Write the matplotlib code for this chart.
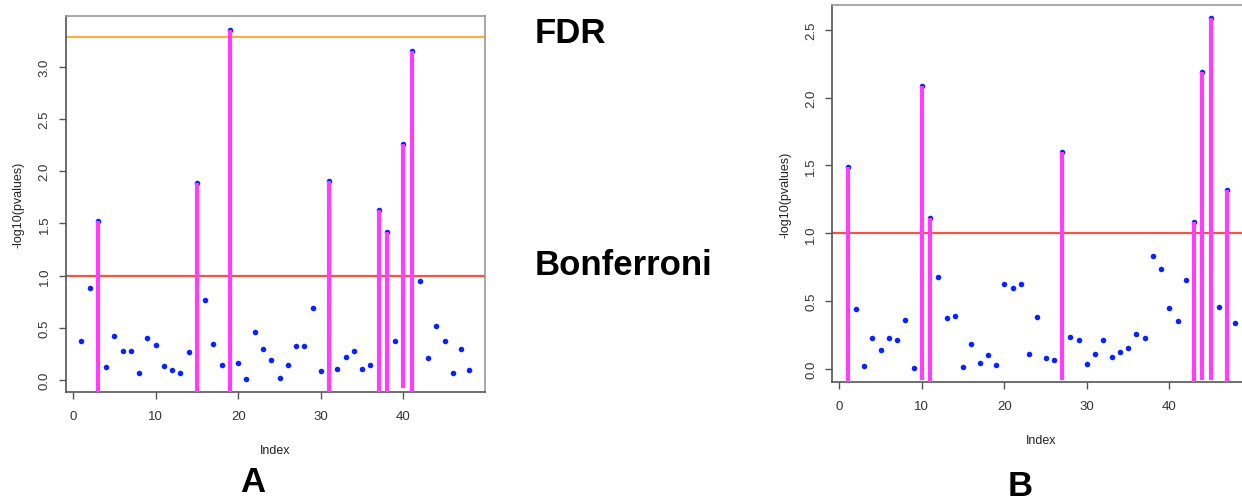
import matplotlib
matplotlib.use("Agg")
import matplotlib.pyplot as plt

plt.rcParams['font.family'] = ['Liberation Sans', 'DejaVu Sans']

# ---------------- data: panel A ----------------
a_values = [0.37, 0.88, 1.52, 0.12, 0.425, 0.275, 0.275, 0.07, 0.40, 0.335,
            0.134, 0.096, 0.064, 0.27, 1.89, 0.77, 0.345, 0.144, 3.35, 0.163,
            0.007, 0.463, 0.30, 0.19, 0.016, 0.147, 0.33, 0.33, 0.69, 0.083,
            1.91, 0.109, 0.224, 0.281, 0.109, 0.147, 1.63, 1.415, 0.377, 2.263,
            3.154, 0.946, 0.21, 0.514, 0.377, 0.07, 0.30, 0.10]
a_sig_index = [3, 15, 19, 31, 37, 38, 40, 41]
a_sig_bottom = [-0.5, -0.5, -0.5, -0.5, -0.5, -0.5, -0.08, -0.5]
a_fdr = 3.29
a_bonf = 1.0
a_yticks = [0.0, 0.5, 1.0, 1.5, 2.0, 2.5, 3.0]

# ---------------- data: panel B ----------------
b_values = [1.49, 0.442, 0.022, 0.226, 0.143, 0.226, 0.216, 0.359, 0.005, 2.088,
            1.113, 0.68, 0.378, 0.388, 0.017, 0.182, 0.042, 0.106, 0.029, 0.627,
            0.60, 0.627, 0.11, 0.386, 0.079, 0.066, 1.60, 0.233, 0.216, 0.034,
            0.108, 0.211, 0.091, 0.123, 0.152, 0.258, 0.231, 0.835, 0.737, 0.452,
            0.351, 0.656, 1.085, 2.186, 2.587, 0.457, 1.317, 0.342]
b_sig_index = [1, 10, 11, 27, 43, 44, 45, 47]
b_sig_bottom = [-0.5, -0.08, -0.5, -0.08, -0.5, -0.08, -0.08, -0.5]
b_bonf = 1.0
b_yticks = [0.0, 0.5, 1.0, 1.5, 2.0, 2.5]

xticks = [0, 10, 20, 30, 40]

MAGENTA = '#FF3CFF'
BLUE = '#0A22FF'
RED = '#F25540'
ORANGE = '#F9B040'

fig = plt.figure(figsize=(12.42, 5.02), dpi=100)

def style_axes(ax, yticks, ylim):
    ax.set_xlim(-0.85, 49.88)
    ax.set_ylim(*ylim)
    ax.set_xticks(xticks)
    ax.set_xticklabels([str(t) for t in xticks])
    ax.set_yticks(yticks)
    ax.set_yticklabels(['%.1f' % t for t in yticks], rotation=90, va='center')
    for s in ['left', 'bottom']:
        ax.spines[s].set_color('#555555')
        ax.spines[s].set_linewidth(1.2)
    for s in ['top', 'right']:
        ax.spines[s].set_color('#9a9a9a')
        ax.spines[s].set_linewidth(1.2)
    ax.tick_params(axis='both', direction='out', length=5, width=1.0,
                   color='#555555', labelcolor='#333333', labelsize=9.5, pad=8)
    ax.tick_params(axis='y', pad=6)

def draw_panel(ax, values, sig_idx, sig_bottom):
    idx = list(range(1, len(values) + 1))
    ax.scatter(idx, values, s=16, color=BLUE, zorder=3, linewidths=0)
    tops = [values[i - 1] for i in sig_idx]
    ax.vlines(sig_idx, sig_bottom, tops, colors=MAGENTA, linewidth=3.0,
              zorder=4, capstyle='butt')

# Panel A
axA = fig.add_axes([66 / 1242, 1 - 393 / 502, 419 / 1242, 376 / 502])
draw_panel(axA, a_values, a_sig_index, a_sig_bottom)
axA.axhline(a_fdr, color=ORANGE, linewidth=1.6, zorder=2)
axA.axhline(a_bonf, color=RED, linewidth=1.6, zorder=2)
style_axes(axA, a_yticks, (-0.115, 3.487))
axA.set_xlabel('Index', fontsize=9, color='#222222', labelpad=16)
axA.set_ylabel('-log10(pvalues)', fontsize=9, color='#222222', labelpad=10)

# Panel B (extends past the right edge of the figure, as in the reference)
axB = fig.add_axes([832.3 / 1242, 1 - 382.7 / 502, 418.5 / 1242, 376.4 / 502])
draw_panel(axB, b_values, b_sig_index, b_sig_bottom)
axB.axhline(b_bonf, color=RED, linewidth=1.6, zorder=2)
style_axes(axB, b_yticks, (-0.094, 2.68))
axB.set_xlabel('Index', fontsize=9, color='#222222', labelpad=16)
axB.set_ylabel('-log10(pvalues)', fontsize=9, color='#222222', labelpad=10)

# Annotations
fig.text(535 / 1242, 1 - 34 / 502, 'FDR', fontsize=25, fontweight='bold',
         ha='left', va='center')
fig.text(535 / 1242, 1 - 266 / 502, 'Bonferroni', fontsize=25, fontweight='bold',
         ha='left', va='center')
fig.text(253 / 1242, 1 - 483 / 502, 'A', fontsize=25, fontweight='bold',
         ha='center', va='center')
fig.text(1020 / 1242, 1 - 487 / 502, 'B', fontsize=25, fontweight='bold',
         ha='center', va='center')

fig.savefig('out.png', dpi=100)
